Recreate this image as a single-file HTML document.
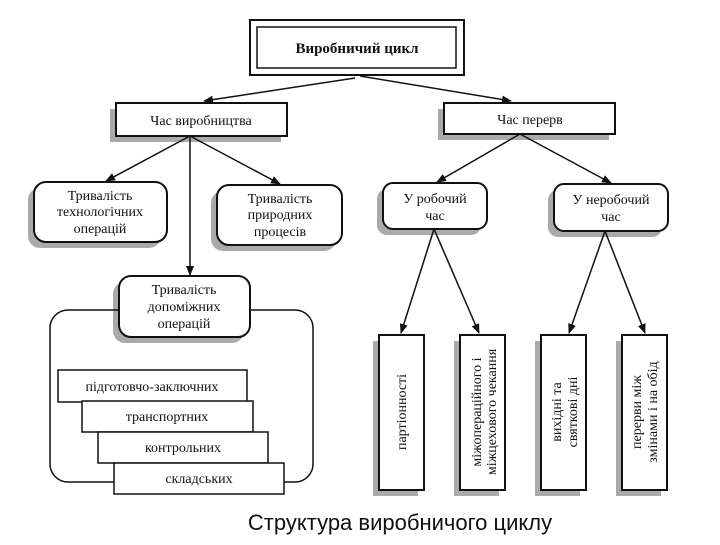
<!DOCTYPE html>
<html><head><meta charset="utf-8"><style>
body{margin:0;background:#fff}
svg text{font-family:"Liberation Serif",serif;fill:#111}
</style></head><body>
<svg width="720" height="540" viewBox="0 0 720 540" xmlns="http://www.w3.org/2000/svg">
<defs><marker id="a" markerWidth="10" markerHeight="8" refX="9" refY="4" orient="auto" markerUnits="userSpaceOnUse"><path d="M0,0 L10,4 L0,8 Z" fill="#111"/></marker></defs>
<g fill="#aaa">
<rect x="110" y="109" width="171" height="33"/>
<rect x="438" y="109" width="171" height="31"/>
<rect x="28" y="188" width="133" height="60" rx="12"/>
<rect x="211" y="191" width="125" height="60" rx="12"/>
<rect x="377" y="189" width="104" height="46" rx="10"/>
<rect x="548" y="190" width="114" height="47" rx="10"/>
<rect x="113" y="282" width="131" height="61" rx="12"/>
<rect x="373" y="341" width="45" height="155"/>
<rect x="454" y="341" width="45" height="155"/>
<rect x="535" y="341" width="45" height="155"/>
<rect x="616" y="341" width="45" height="155"/>
</g>
<g stroke="#111" stroke-width="1.5" fill="#fff">
<rect x="250" y="20" width="214" height="55" stroke-width="2"/>
<rect x="257" y="27" width="199" height="41" stroke-width="1.5"/>
<rect x="116" y="103" width="171" height="33" stroke-width="2"/>
<rect x="444" y="103" width="171" height="31" stroke-width="2"/>
<rect x="34" y="182" width="133" height="60" rx="12" stroke-width="2"/>
<rect x="217" y="185" width="125" height="60" rx="12" stroke-width="2"/>
<rect x="383" y="183" width="104" height="46" rx="10" stroke-width="2"/>
<rect x="554" y="184" width="114" height="47" rx="10" stroke-width="2"/>
<rect x="50" y="310" width="263" height="172" rx="18" fill="none"/>
<rect x="119" y="276" width="131" height="61" rx="12" stroke-width="2"/>
<rect x="58" y="370" width="189" height="32"/>
<rect x="82" y="401" width="171" height="31"/>
<rect x="98" y="432" width="170" height="31"/>
<rect x="114" y="463" width="170" height="31"/>
<rect x="379" y="335" width="45" height="155" stroke-width="2"/>
<rect x="460" y="335" width="45" height="155" stroke-width="2"/>
<rect x="541" y="335" width="45" height="155" stroke-width="2"/>
<rect x="622" y="335" width="45" height="155" stroke-width="2"/>
</g>
<g stroke="#111" stroke-width="1.5" marker-end="url(#a)">
<line x1="355" y1="78" x2="204" y2="101"/>
<line x1="360" y1="76" x2="511" y2="101"/>
<line x1="190" y1="136" x2="106" y2="181"/>
<line x1="190" y1="136" x2="280" y2="184"/>
<line x1="190" y1="136" x2="190" y2="275"/>
<line x1="520" y1="134" x2="437" y2="182"/>
<line x1="520" y1="134" x2="611" y2="183"/>
<line x1="434" y1="229" x2="401" y2="333"/>
<line x1="434" y1="229" x2="479" y2="333"/>
<line x1="605" y1="231" x2="569" y2="333"/>
<line x1="605" y1="231" x2="645" y2="333"/>
</g>
<g text-anchor="middle" font-size="14">
<text x="357" y="53" font-weight="bold" font-size="15">Виробничий цикл</text>
<text x="201" y="125">Час виробництва</text>
<text x="530" y="124">Час перерв</text>
<text x="100" y="200">Тривалість</text><text x="100" y="216">технологічних</text><text x="100" y="233">операцій</text>
<text x="280" y="203">Тривалість</text><text x="280" y="219">природних</text><text x="280" y="236">процесів</text>
<text x="435" y="203">У робочий</text><text x="435" y="220">час</text>
<text x="611" y="204">У неробочий</text><text x="611" y="221">час</text>
<text x="184" y="294">Тривалість</text><text x="184" y="311">допоміжних</text><text x="184" y="328">операцій</text>
<text x="152" y="391">підготовчо-заключних</text>
<text x="167" y="421">транспортних</text>
<text x="183" y="452">контрольних</text>
<text x="199" y="483">складських</text>
<text transform="translate(406,412) rotate(-90)">партіонності</text>
<text transform="translate(481,412) rotate(-90)">міжопераційного і</text>
<text transform="translate(496,412) rotate(-90)">міжцехового чекання</text>
<text transform="translate(561,412) rotate(-90)">вихідні та</text>
<text transform="translate(577,412) rotate(-90)">святкові дні</text>
<text transform="translate(641,412) rotate(-90)">перерви між</text>
<text transform="translate(657,412) rotate(-90)">змінами і на обід</text>
</g>
<text x="400" y="530" text-anchor="middle" font-size="22" style="font-family:'Liberation Sans',sans-serif">Структура виробничого циклу</text>
</svg>
</body></html>
